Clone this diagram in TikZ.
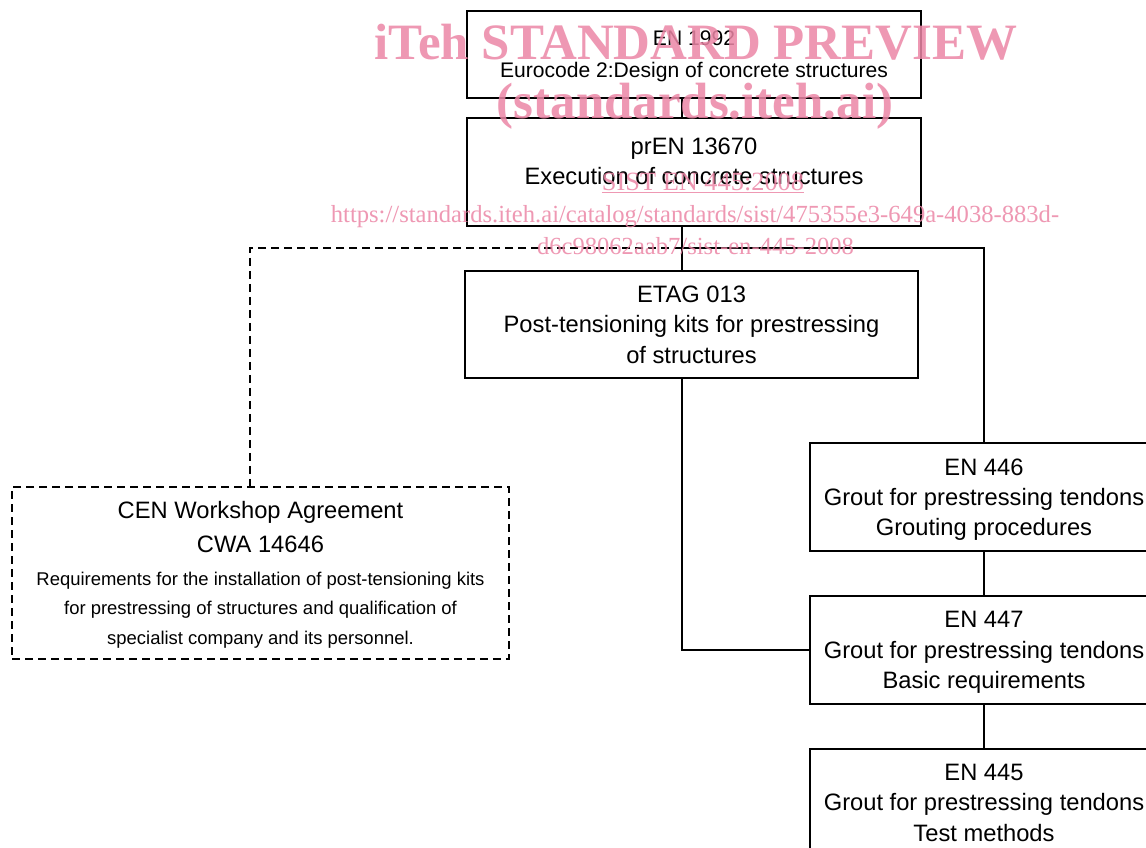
\documentclass[tikz,border=0pt]{standalone}
\usepackage{fontspec}
\setmainfont{Liberation Serif}
\setsansfont{Liberation Sans}
\usetikzlibrary{positioning}
\definecolor{wmPink}{HTML}{EC86A6}
\newcommand\cwaBig{\fontsize{13.5}{18.8}\selectfont}
\newcommand\cwaSmall{\fontsize{10.5}{17}\selectfont}
\tikzset{
  boxStd/.style={rectangle, draw=black, line width=1.1pt, fill=white,
                 align=center, font=\sffamily\fontsize{13.5}{17.2}\selectfont,
                 inner sep=0pt, text depth=-0.26cm},
  boxDash/.style={boxStd, dash pattern=on 0.16cm off 0.1cm,
                  font=\sffamily\cwaSmall, text depth=-0.22cm},
  lineC/.style={line width=1.1pt},
  lineD/.style={line width=1.1pt, dash pattern=on 0.16cm off 0.1cm},
  wmBig/.style={anchor=base, inner sep=0pt, text=wmPink, text opacity=0.85,
                font=\rmfamily\bfseries\fontsize{29}{29}\selectfont},
  wmSmall/.style={anchor=base, inner sep=0pt, text=wmPink, text opacity=0.85,
                  font=\rmfamily\fontsize{14}{14}\selectfont},
}
\begin{document}
\begin{tikzpicture}[x=0.02cm, y=-0.02cm]
    \clip (0,0) rectangle (1146,848);
    \fill[white] (0,0) rectangle (1146,848);
    % top chain
    \node[boxStd, minimum width=9.08cm, minimum height=1.74cm, text depth=-0.16cm,
          font=\sffamily\fontsize{12}{18.2}\selectfont] (en1992) at (694,54.5)
          {EN 1992\\Eurocode 2:Design of concrete structures};
    \node[boxStd, minimum width=9.08cm, minimum height=2.16cm, text depth=0.44cm]
          (pren) at (694,172) {prEN 13670\\Execution of concrete structures};
    \node[boxStd, minimum width=9.06cm, minimum height=2.14cm] (etag) at (691.5,324.5)
          {ETAG 013\\Post-tensioning kits for prestressing\\of structures};
    % grout standards
    \node[boxStd, minimum width=6.96cm, minimum height=2.16cm] (en446) at (984,497)
          {EN 446\\Grout for prestressing tendons\\Grouting procedures};
    \node[boxStd, minimum width=6.96cm, minimum height=2.16cm, below=0.86cm of en446]
          (en447) {EN 447\\Grout for prestressing tendons\\Basic requirements};
    \node[boxStd, minimum width=6.96cm, minimum height=2.16cm, below=0.86cm of en447,
          text depth=-0.1cm] (en445) {EN 445\\Grout for prestressing tendons\\Test methods};
    % workshop agreement
    \node[boxDash, minimum width=9.94cm, minimum height=3.44cm] (cwa) at (260.5,573)
          {{\cwaBig CEN Workshop Agreement}\\[2.2pt]{\cwaBig CWA 14646}\\[1.8pt]
           Requirements for the installation of post-tensioning kits\\
           for prestressing of structures and qualification of\\
           specialist company and its personnel.};
    % connectors
    \coordinate (split) at (682,248);
    \coordinate (dashx) at (250,248);
    \draw[lineC] (en1992.south -| split) -- (pren.north -| split);
    \draw[lineC] (pren.south -| split) -- (etag.north -| split);
    \draw[lineC] (split) -| (en446.north);
    \draw[lineD] (split) -- (dashx) -- (cwa.north -| dashx);
    \draw[lineC] (etag.south -| split) |- (en447.west);
    \draw[lineC] (en446) -- (en447);
    \draw[lineC] (en447) -- (en445);
    % watermark
    \node[wmBig] (wm1) at (696,60) {iTeh STANDARD PREVIEW};
    \node[wmBig] (wm2) at (695,118) {(standards.iteh.ai)};
    \node[wmSmall, font=\rmfamily\fontsize{15}{15}\selectfont] (wm3) at (703,190)
          {\underline{SIST EN 445:2008}};
    \node[wmSmall] (wm4) at (695,222)
          {https://standards.iteh.ai/catalog/standards/sist/475355e3-649a-4038-883d-};
    \node[wmSmall] (wm5) at (695.5,254) {d6c98062aab7/sist-en-445-2008};
\end{tikzpicture}
\end{document}
